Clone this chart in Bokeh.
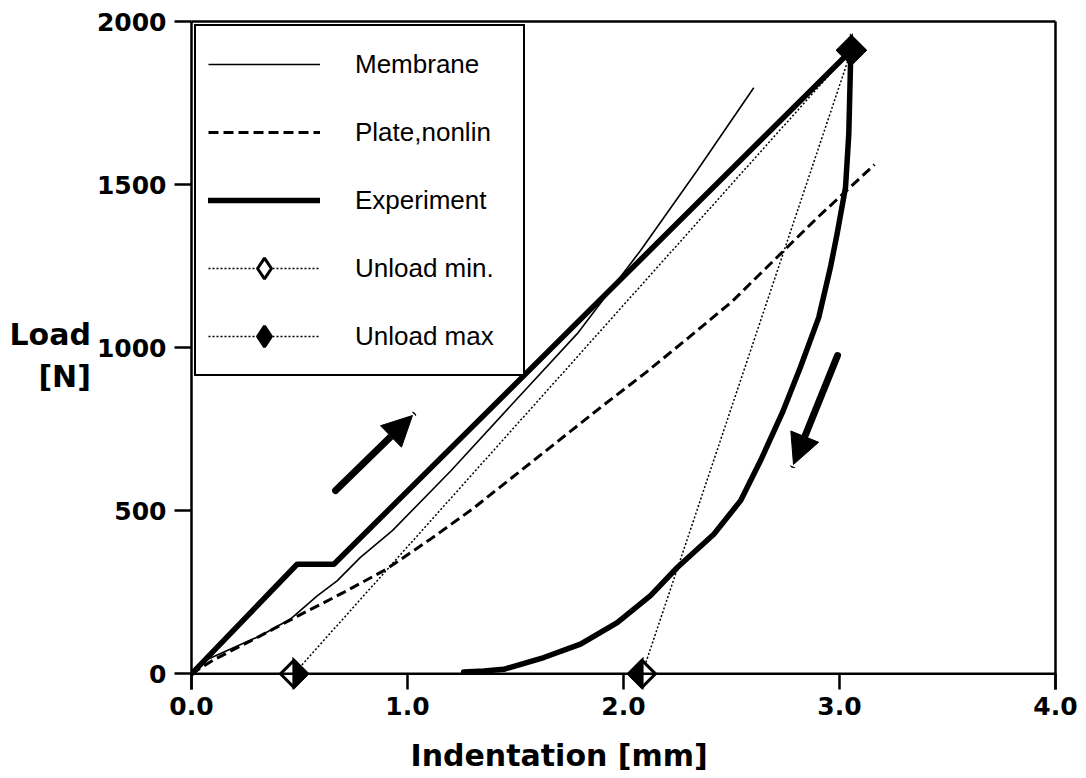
import math
from bokeh.plotting import figure
from bokeh.models import (LinearAxis, FixedTicker, PrintfTickFormatter, Legend, LegendItem,
                          Arrow, NormalHead, Span, ColumnDataSource, Range1d, Title)
from bokeh.embed import file_html
from bokeh.resources import INLINE

# ---------------- data ----------------
memb_x = [0, 0.042, 0.181, 0.319, 0.458, 0.582, 0.674, 0.782, 0.93, 1.2, 1.5, 1.786, 2.079, 2.341, 2.603]
memb_y = [0, 35, 76, 117, 168, 239, 285, 357, 439, 622, 838, 1043, 1298, 1543, 1797]

plate_x = [0, 0.1, 0.3, 0.5, 0.7, 0.9, 1.1, 1.3, 1.5, 1.7, 1.9, 2.1, 2.3, 2.5, 2.7, 2.9, 3.162]
plate_y = [0, 42, 110, 180, 248, 320, 410, 505, 610, 715, 820, 922, 1030, 1140, 1270, 1400, 1561]

load_x = [0, 0.489, 0.659, 3.055]
load_y = [0, 336, 336, 1912]
unload_x = [3.051, 3.043, 3.028, 2.989, 2.958, 2.904, 2.819, 2.735, 2.634, 2.542, 2.418,
            2.249, 2.125, 1.971, 1.801, 1.631, 1.446, 1.353, 1.26]
unload_y = [1870, 1655, 1492, 1349, 1246, 1093, 940, 800, 653, 531, 428,
            326, 240, 157, 91, 50, 14, 9, 6]

umin_x = [0.474, 3.055]
umin_y = [0, 1912]
umax_x = [2.086, 3.055]
umax_y = [0, 1912]

arrow_x0 = [0.667, 2.991]
arrow_y0 = [562, 976]
arrow_x1 = [1.023, 2.787]
arrow_y1 = [792, 642]

x_ticks = [0, 1, 2, 3, 4]
y_ticks = [0, 500, 1000, 1500, 2000]

# ---------------- layout constants ----------------
W, H = 1080, 776
ML, MR, MT, MB = 191, 25, 21, 87
FRAME_W = W - ML - MR
FRAME_H = H - MT - MB
X0, X1 = 0, 4
Y0, Y1 = -48, 2000
DSIZE = 19  # diamond (square rotated 45 deg) size in px
half_diag = DSIZE / math.sqrt(2)
ddx = half_diag * (X1 - X0) / FRAME_W
ddy = half_diag * (Y1 - Y0) / FRAME_H

FONT = "DejaVu Sans"

p = figure(width=W, height=H, x_range=Range1d(X0, X1), y_range=Range1d(Y0, Y1),
           output_backend="svg", toolbar_location=None,
           min_border_left=ML, min_border_right=MR, min_border_top=MT, min_border_bottom=MB)
p.outline_line_color = None
p.xgrid.grid_line_color = None
p.ygrid.grid_line_color = None
p.background_fill_color = "white"
p.border_fill_color = "white"

xa = p.below[0]
xa.ticker = FixedTicker(ticks=x_ticks)
xa.formatter = PrintfTickFormatter(format="%.1f")
xa.axis_line_color = None
xa.major_tick_in = 16
xa.major_tick_out = 0
xa.major_tick_line_width = 2.5
xa.minor_tick_line_color = None
xa.major_label_text_font = FONT
xa.major_label_text_font_style = "bold"
xa.major_label_text_font_size = "25px"
xa.major_label_text_color = "black"
xa.major_label_standoff = 7

ya = p.left[0]
ya.ticker = FixedTicker(ticks=y_ticks)
ya.axis_line_width = 2.5
ya.major_tick_in = 0
ya.major_tick_out = 17
ya.major_tick_line_width = 2.5
ya.minor_tick_line_color = None
ya.major_label_text_font = FONT
ya.major_label_text_font_style = "bold"
ya.major_label_text_font_size = "25px"
ya.major_label_text_color = "black"
ya.major_label_standoff = 8
ya.axis_label = "Load\n[N]"
ya.axis_label_orientation = "horizontal"
ya.axis_label_standoff = 3
ya.axis_label_text_font = FONT
ya.axis_label_text_font_style = "bold"
ya.axis_label_text_font_size = "30px"
ya.axis_label_text_color = "black"

for loc in ("above", "right"):
    ax = LinearAxis(ticker=FixedTicker(ticks=[]), axis_line_width=2.5,
                    major_tick_line_color=None, minor_tick_line_color=None,
                    major_label_text_font_size="0px")
    p.add_layout(ax, loc)

# invisible spacer axis (white ticks on white, no line, no labels) above the x title
spacer = LinearAxis(ticker=FixedTicker(ticks=x_ticks), axis_line_color=None,
                    major_tick_line_color="white", minor_tick_line_color=None,
                    major_tick_in=0, major_tick_out=16, minor_tick_in=0, minor_tick_out=0,
                    major_label_standoff=0, major_label_text_font_size="0px",
                    major_label_text_color=None)
p.add_layout(spacer, "below")

p.add_layout(Title(text="Indentation  [mm]", align="left", offset=219, standoff=4,
                   vertical_align="bottom", text_font=FONT, text_font_style="bold",
                   text_font_size="30px", text_color="black"), "below")

p.add_layout(Span(location=0, dimension="width", line_color="black", line_width=2.5))

# ---------------- curves ----------------
r_memb = p.line(memb_x, memb_y, line_color="black", line_width=1.6)
r_plate = p.line(plate_x, plate_y, line_color="black", line_width=3, line_dash="10 5")
exp_x = load_x + unload_x
exp_y = load_y + unload_y
r_exp = p.line(exp_x, exp_y, line_color="black", line_width=5.5, line_join="round", line_cap="round")

r_umin_line = p.line(umin_x, umin_y, line_color="black", line_width=1.5, line_dash="2 2")
r_umax_line = p.line(umax_x, umax_y, line_color="black", line_width=1.5, line_dash="2 2")

# legend glyph diamonds (hidden under the plotted square diamonds)
r_umin_leg = p.scatter(umin_x, umin_y, marker="diamond", size=DSIZE,
                       fill_color="white", line_color="black", line_width=3)
r_umax_leg = p.scatter(umax_x, umax_y, marker="diamond", size=DSIZE,
                       fill_color="black", line_color="black", line_width=3)

r_umin_d = p.scatter(umin_x, umin_y, marker="square", angle=math.pi / 4, size=DSIZE,
                     fill_color="white", line_color="black", line_width=3, line_join="miter")
r_umax_d = p.scatter(umax_x, umax_y, marker="square", angle=math.pi / 4, size=DSIZE,
                     fill_color="white", line_color="black", line_width=3, line_join="miter")

# half-filled diamonds: min -> right half black, max -> left half black
p.patches([[x, x + ddx, x] for x in umin_x], [[y + ddy, y, y - ddy] for y in umin_y],
          fill_color="black", line_color="black", line_width=3, line_join="miter")
p.patches([[x, x - ddx, x] for x in umax_x], [[y + ddy, y, y - ddy] for y in umax_y],
          fill_color="black", line_color="black", line_width=3, line_join="miter")

# ---------------- arrows ----------------
asrc = ColumnDataSource(dict(x0=arrow_x0, y0=arrow_y0, x1=arrow_x1, y1=arrow_y1))
p.add_layout(Arrow(source=asrc, x_start="x0", y_start="y0", x_end="x1", y_end="y1",
                   line_width=7, line_color="black", line_cap="round",
                   end=NormalHead(size=30, fill_color="black", line_color="black", line_width=1)))

# ---------------- legend ----------------
legend = Legend(items=[
    LegendItem(label="Membrane", renderers=[r_memb]),
    LegendItem(label="Plate,nonlin", renderers=[r_plate]),
    LegendItem(label="Experiment", renderers=[r_exp]),
    LegendItem(label="Unload min.", renderers=[r_umin_line, r_umin_leg]),
    LegendItem(label="Unload max", renderers=[r_umax_line, r_umax_leg]),
], location="top_left")
legend.margin = 3
legend.padding = 12
legend.spacing = 16
legend.glyph_width = 112
legend.glyph_height = 52
legend.label_standoff = 35
legend.label_width = 156
legend.label_text_font = "Liberation Sans"
legend.label_text_font_size = "26px"
legend.label_text_color = "black"
legend.border_line_color = "black"
legend.border_line_width = 2.5
legend.border_line_alpha = 1.0
legend.background_fill_color = "white"
legend.background_fill_alpha = 1.0
p.add_layout(legend)

open("out.html", "w").write(file_html(p, INLINE))
